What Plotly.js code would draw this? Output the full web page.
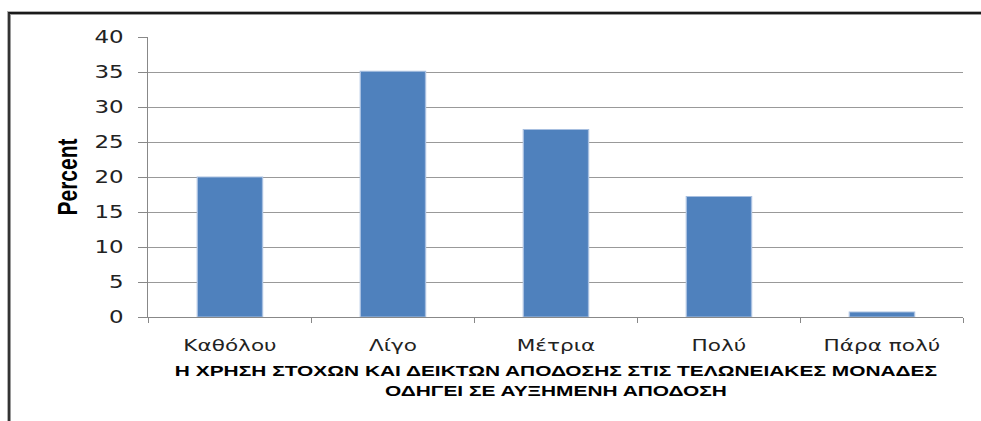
<!DOCTYPE html>
<html>
<head>
<meta charset="utf-8">
<script src="https://cdn.plot.ly/plotly-3.0.1.min.js"></script>
<style>
  html, body { margin: 0; padding: 0; background: #fff; overflow: hidden; }
  body { width: 981px; height: 421px; position: relative; }
  /* chart-area frame: only the top and left edges fall inside the page */
  #frame {
    position: absolute; left: 8px; top: 12px; width: 1100px; height: 600px;
    border-top: 2px solid #1a1a1a; border-left: 2px solid #333;
    box-shadow: inset 1px 1px 0 #9a9a9a, -1px -1px 0 #b0b0b0;
  }
  /* the chart is laid out narrower and widened, giving its wide-set lettering */
  #chart {
    position: absolute; left: 0; top: 0; width: 727px; height: 421px;
    transform: scaleX(1.3494); transform-origin: 0 0;
  }
</style>
</head>
<body>
<div id="frame"></div>
<div id="chart"></div>
<script>
// response categories and share of respondents (%)
const categories = ['Καθόλου', 'Λίγο', 'Μέτρια', 'Πολύ', 'Πάρα πολύ'];
const percents = [20.0, 35.1, 26.8, 17.2, 0.7];
const yTicks = [0, 5, 10, 15, 20, 25, 30, 35, 40];
const xTitle = 'Η ΧΡΗΣΗ ΣΤΟΧΩΝ ΚΑΙ ΔΕΙΚΤΩΝ ΑΠΟΔΟΣΗΣ ΣΤΙΣ ΤΕΛΩΝΕΙΑΚΕΣ ΜΟΝΑΔΕΣ<br>ΟΔΗΓΕΙ ΣΕ ΑΥΞΗΜΕΝΗ ΑΠΟΔΟΣΗ';
const yTitle = 'Percent';

const trace = {
  type: 'bar',
  x: categories,
  y: percents,
  marker: { color: '#4f81bd', line: { color: '#a7bfe0', width: 1 } },
  hoverinfo: 'x+y'
};

const layout = {
  width: 727,
  height: 421,
  margin: { l: 110, r: 13, t: 37, b: 104, pad: 0 },
  paper_bgcolor: 'rgba(0,0,0,0)',
  plot_bgcolor: '#fff',
  bargap: 0.6,
  showlegend: false,
  font: { family: 'DejaVu Sans, sans-serif', color: '#222' },
  xaxis: {
    type: 'category',
    tickson: 'boundaries',
    ticks: 'outside', ticklen: 5, tickcolor: '#888', tickwidth: 1,
    ticklabelstandoff: 14,
    showline: true, linecolor: '#888', linewidth: 1,
    showgrid: false, zeroline: false,
    tickfont: { family: 'DejaVu Sans, sans-serif', size: 16, color: '#222' },
    title: {
      text: xTitle,
      font: { family: 'Liberation Sans, Arial, sans-serif', size: 15.5, color: '#000', weight: 'bold' },
      standoff: 10
    },
    automargin: false
  },
  yaxis: {
    range: [0, 40],
    tickvals: yTicks,
    ticks: 'outside', ticklen: 7, tickcolor: '#888', tickwidth: 1,
    ticklabelstandoff: 7,
    showline: true, linecolor: '#888', linewidth: 1,
    showgrid: true, gridcolor: '#999', gridwidth: 1,
    zeroline: false,
    tickfont: { family: 'DejaVu Sans, sans-serif', size: 17, color: '#222' },
    title: {
      text: yTitle,
      font: { family: 'Liberation Sans, Arial, sans-serif', size: 21, color: '#000', weight: 'bold' },
      standoff: 6
    },
    automargin: false
  }
};

Plotly.newPlot('chart', [trace], layout, { displayModeBar: false, staticPlot: true });
</script>
</body>
</html>
